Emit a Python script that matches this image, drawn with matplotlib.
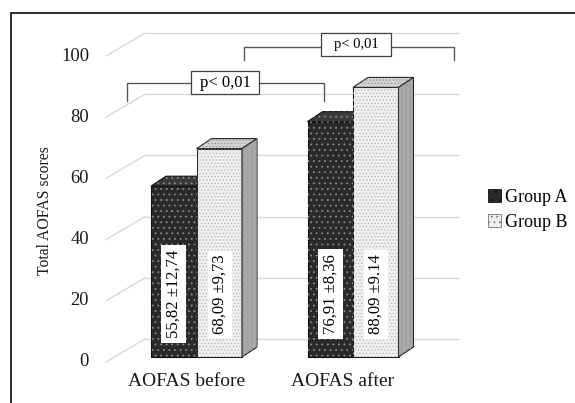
import numpy as np
import matplotlib.pyplot as plt
from matplotlib.patches import Polygon, Rectangle, Patch

plt.rcParams['font.family'] = ['Liberation Serif', 'DejaVu Serif']
plt.rcParams['hatch.linewidth'] = 0.6

# Data
categories = ['AOFAS before', 'AOFAS after']
groups = ['Group A', 'Group B']
group_a = [55.82, 76.91]
group_b = [68.09, 88.09]
labels_a = ['55,82 \u00b112,74', '76,91 \u00b18,36']
labels_b = ['68,09 \u00b19,73', '88,09 \u00b19.14']
yticks = [0, 20, 40, 60, 80, 100]
p_text = 'p< 0,01'

# layout in pixels of the 575x403 picture
X0, XSTEP = 196.5, 156.5   # px centre of first group, px between groups
Y0, YSCALE = 357, 3.06     # px of value 0, px per unit


def px2x(px):
    return (px - X0) / XSTEP


def px2v(py):
    return (Y0 - py) / YSCALE


fig = plt.figure(figsize=(5.75, 4.03), dpi=100)
ax = fig.add_axes([0, 0, 1, 1])
ax.set_xlim(px2x(0), px2x(575))
ax.set_ylim(px2v(403), px2v(0))
ax.axis('off')

w = 45.5 / XSTEP
dx, dy = 15 / XSTEP, 10 / YSCALE
grid_c = '#d9d9d9'

# back walls / gridlines
for t in yticks:
    ax.plot([px2x(106), px2x(145)], [t - 5 / YSCALE, t + 18 / YSCALE], color=grid_c, lw=1, zorder=1)
    ax.plot([px2x(145), px2x(458)], [t + 18 / YSCALE, t + 18 / YSCALE], color=grid_c, lw=1, zorder=1)
    ax.text(px2x(89), t - 5 / YSCALE, str(t), ha='right', va='center', fontsize=13.3, color='#1a1a1a')

x = np.arange(len(categories))
xa = x - w / 2
xb = x + w / 2

# group A bars
ax.bar(xa, group_a, w, color='#2a2a2a', edgecolor='#111111', lw=0.8, zorder=3)
ax.bar(xa, group_a, w, fill=False, hatch='...', edgecolor='#8a8a8a', lw=0, zorder=3)
for xi, v in zip(xa, group_a):
    top = [(xi - w / 2, v), (xi - w / 2 + dx, v + dy), (xi + w / 2 + dx, v + dy), (xi + w / 2, v)]
    ax.add_patch(Polygon(top, closed=True, fc='#3a3a3a', ec='#111111', lw=0.8, zorder=3))
    ax.add_patch(Polygon(top, closed=True, fill=False, hatch='...', ec='#8a8a8a', lw=0, zorder=3))

# group B bars
ax.bar(xb, group_b, w, color='#f1f1f1', edgecolor='#222222', lw=0.8, zorder=4)
ax.bar(xb, group_b, w, fill=False, hatch='.....', edgecolor='#b8b8b8', lw=0, zorder=4)
for xi, v in zip(xb, group_b):
    top = [(xi - w / 2, v), (xi - w / 2 + dx, v + dy), (xi + w / 2 + dx, v + dy), (xi + w / 2, v)]
    side = [(xi + w / 2, 0), (xi + w / 2 + dx, dy), (xi + w / 2 + dx, v + dy), (xi + w / 2, v)]
    ax.add_patch(Polygon(top, closed=True, fc='#d3d3d3', ec='#222222', lw=0.8, zorder=4))
    ax.add_patch(Polygon(top, closed=True, fill=False, hatch='.....', ec='#9a9a9a', lw=0, zorder=4))
    ax.add_patch(Polygon(side, closed=True, fc='#a9a9a9', ec='#222222', lw=0.8, zorder=4))
    ax.add_patch(Polygon(side, closed=True, fill=False, hatch='||||', ec='#999999', lw=0, zorder=4))

# value labels inside bars
lab_v = px2v(294)
for xi, s in zip(xa, labels_a):
    ax.text(xi, lab_v, s, rotation=90, ha='center', va='center', fontsize=12, zorder=6,
            bbox=dict(boxstyle='square,pad=0.28', fc='white', ec='none'))
for xi, s in zip(xb, labels_b):
    ax.text(xi, lab_v, s, rotation=90, ha='center', va='center', fontsize=12, zorder=6,
            bbox=dict(boxstyle='square,pad=0.28', fc='white', ec='#e0e0e0', lw=0.6, ls=':'))

# category labels
for xi, c in zip(x, categories):
    ax.text(xi - 10 / XSTEP, px2v(381), c, ha='center', va='center', fontsize=14, color='#1a1a1a')

ax.text(px2x(45), px2v(211), 'Total AOFAS scores', rotation=90, ha='center', va='center',
        fontsize=11.3, color='#1a1a1a')

# significance brackets
br_c = '#595959'
ax.plot([px2x(127), px2x(127), px2x(324), px2x(324)],
        [px2v(101), px2v(83), px2v(83), px2v(101)], color=br_c, lw=1, zorder=5)
ax.add_patch(Rectangle((px2x(191), px2v(94)), px2x(259) - px2x(191), px2v(71) - px2v(94),
                       fc='white', ec='#404040', lw=0.9, zorder=6))
ax.text(px2x(225), px2v(82.5), p_text, ha='center', va='center', fontsize=12, zorder=7)

ax.plot([px2x(244), px2x(244), px2x(454), px2x(454)],
        [px2v(60), px2v(47), px2v(47), px2v(60)], color=br_c, lw=1, zorder=5)
ax.add_patch(Rectangle((px2x(321), px2v(56)), px2x(391) - px2x(321), px2v(33) - px2v(56),
                       fc='white', ec='#404040', lw=0.9, zorder=6))
ax.text(px2x(356), px2v(44.5), p_text, ha='center', va='center', fontsize=10.5, zorder=7)

# legend
handles = [Patch(fc='#2a2a2a', ec='#111111', hatch='..', lw=0.6),
           Patch(fc='#eeeeee', ec='#777777', hatch='...', lw=0.6)]
ax.legend(handles, groups, loc='center left', bbox_to_anchor=(488 / 575, 1 - 210 / 403),
          bbox_transform=fig.transFigure, frameon=False, fontsize=13, handlelength=0.7,
          handleheight=0.7, handletextpad=0.25, labelspacing=0.45, borderpad=0, borderaxespad=0)

# outer frame (runs off the picture at right and bottom)
fig.add_artist(Rectangle((10.5 / 575, -0.1), 1.2, 1.1 - 12.7 / 403, transform=fig.transFigure,
                         fill=False, ec='#2b2b2b', lw=1.4))

fig.savefig('out.png', dpi=100)
